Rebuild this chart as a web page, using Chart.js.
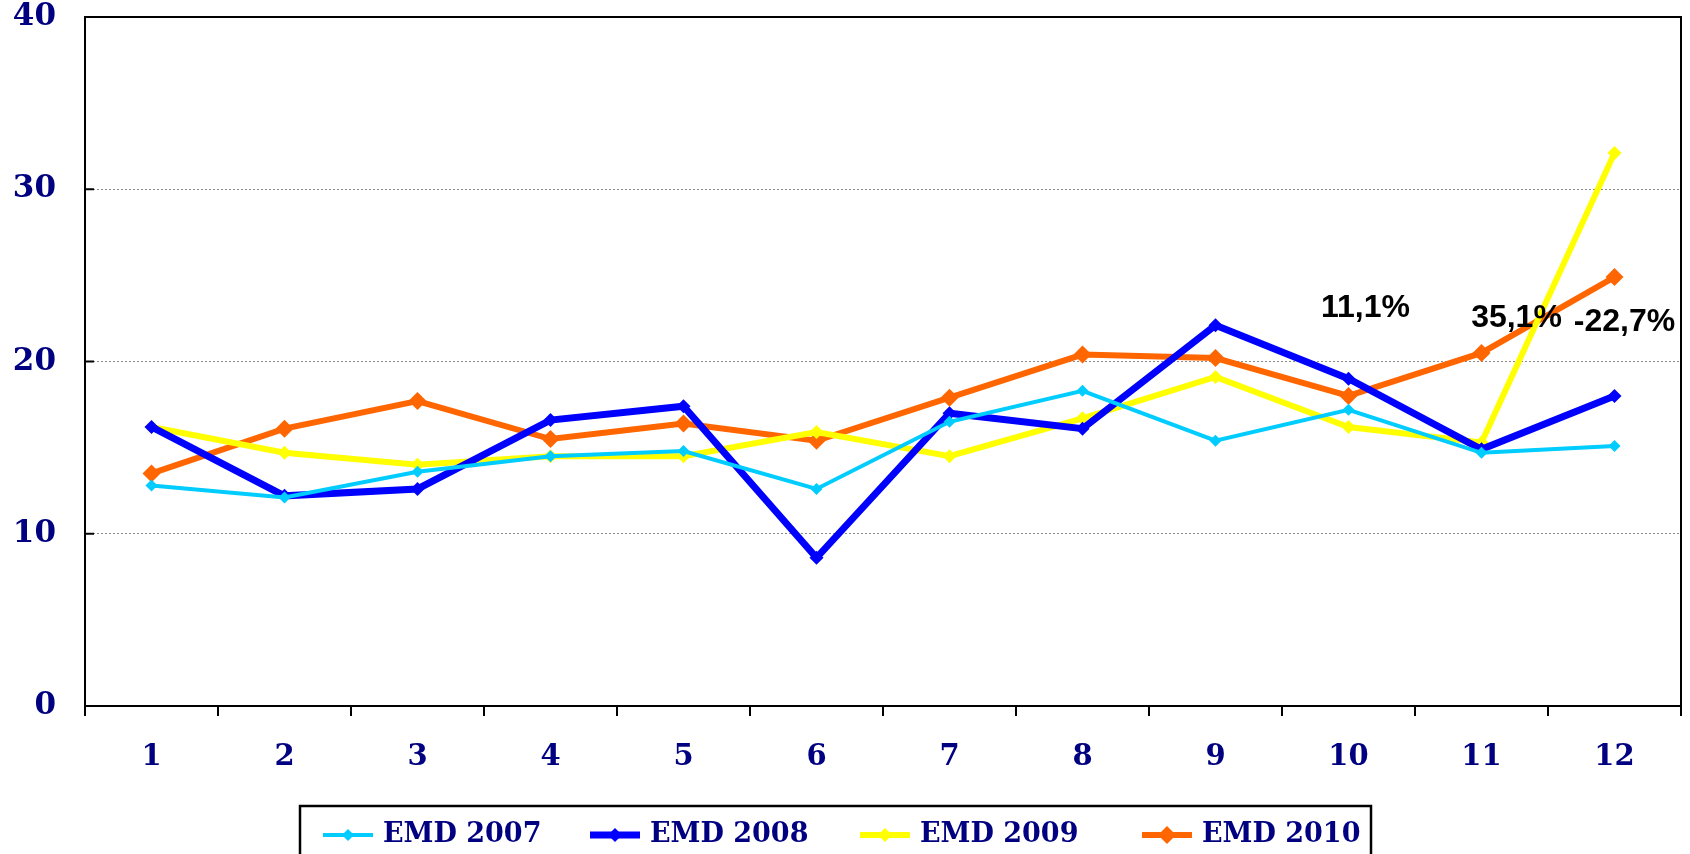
<!DOCTYPE html>
<html>
<head>
<meta charset="utf-8">
<script src="https://cdn.jsdelivr.net/npm/chart.js@4.4.1/dist/chart.umd.min.js"></script>
<style>
    html, body { margin: 0; padding: 0; background: #ffffff; }
    #wrap { width: 1690px; height: 854px; }
</style>
</head>
<body>
<div id="wrap"><canvas id="grafico"></canvas></div>
<script>
var meses = ['1', '2', '3', '4', '5', '6', '7', '8', '9', '10', '11', '12'];

var emd2007 = [12.8, 12.1, 13.6, 14.5, 14.8, 12.6, 16.5, 18.3, 15.4, 17.2, 14.7, 15.1];
var emd2008 = [16.2, 12.2, 12.6, 16.6, 17.4, 8.6, 17.0, 16.1, 22.1, 19.0, 14.9, 18.0];
var emd2009 = [16.2, 14.7, 14.0, 14.5, 14.5, 15.9, 14.5, 16.7, 19.1, 16.2, 15.3, 32.1];
var emd2010 = [13.5, 16.1, 17.7, 15.5, 16.4, 15.4, 17.9, 20.4, 20.2, 18.0, 20.5, 24.9];

var yTicks = [0, 10, 20, 30, 40];

// rotulos de variacao
var rotulos = ['11,1%', '35,1%', '-22,7%'];
var rotuloMes = [10, 11, 12];
var rotuloValor = [23.1, 22.5, 22.3];

var serif = "'DejaVu Serif', 'Liberation Serif', serif";
var azulEscuro = '#000080';

function serie(label, cor, dados, largura, raio) {
    return {
        label: label,
        data: dados,
        borderColor: cor,
        backgroundColor: cor,
        borderWidth: largura,
        pointStyle: 'rectRot',
        pointRadius: raio,
        pointHoverRadius: raio,
        pointBorderWidth: 0,
        tension: 0,
        fill: false
    };
}

var moldura = {
    id: 'moldura',
    afterDraw: function (chart) {
        var ctx = chart.ctx;
        var a = chart.chartArea;
        var y = chart.scales.y;

        ctx.save();
        ctx.strokeStyle = '#000000';
        ctx.lineWidth = 2;
        ctx.strokeRect(a.left, a.top, a.right - a.left, a.bottom - a.top);

        // marcas internas do eixo y
        for (var i = 1; i < yTicks.length - 1; i++) {
            var py = y.getPixelForValue(yTicks[i]);
            ctx.beginPath();
            ctx.moveTo(a.left, py);
            ctx.lineTo(a.left + 9, py);
            ctx.stroke();
        }

        // rotulos de percentagem
        ctx.fillStyle = '#000000';
        ctx.font = "bold 32px 'Liberation Sans', Arial, sans-serif";
        ctx.textAlign = 'center';
        ctx.textBaseline = 'middle';
        var desloc = [17, 35, 10];
        for (var j = 0; j < rotulos.length; j++) {
            var px = chart.scales.x.getPixelForValue(rotuloMes[j] - 1) + desloc[j];
            ctx.fillText(rotulos[j], px, y.getPixelForValue(rotuloValor[j]));
        }

        // legenda em caixa
        var lx = 300, ly = 806, lw = 1071, lh = 60;
        ctx.lineWidth = 2.5;
        ctx.strokeStyle = '#000000';
        ctx.strokeRect(lx, ly, lw, lh);

        ctx.font = 'bold 27px ' + serif;
        ctx.textAlign = 'left';
        var inicio = [323, 590, 860, 1142];
        var cy = 835;
        chart.data.datasets.forEach(function (ds, k) {
            var x = inicio[k];
            ctx.strokeStyle = ds.borderColor;
            ctx.lineWidth = ds.borderWidth;
            ctx.beginPath();
            ctx.moveTo(x, cy);
            ctx.lineTo(x + 50, cy);
            ctx.stroke();
            ctx.fillStyle = ds.borderColor;
            var r = ds.pointRadius;
            ctx.beginPath();
            ctx.moveTo(x + 25, cy - r);
            ctx.lineTo(x + 25 + r, cy);
            ctx.lineTo(x + 25, cy + r);
            ctx.lineTo(x + 25 - r, cy);
            ctx.closePath();
            ctx.fill();
            ctx.fillStyle = azulEscuro;
            ctx.fillText(ds.label, x + 60, cy);
        });
        ctx.restore();
    }
};

var graficoTarget = document.getElementById('grafico');

var grafico = new Chart(graficoTarget, {
    type: 'line',
    data: {
        labels: meses,
        datasets: [
            serie('EMD 2007', '#00CCFF', emd2007, 4, 6),
            serie('EMD 2008', '#0000FF', emd2008, 7, 7),
            serie('EMD 2009', '#FFFF00', emd2009, 6, 7),
            serie('EMD 2010', '#FF6600', emd2010, 6, 9)
        ]
    },
    options: {
        responsive: true,
        maintainAspectRatio: false,
        animation: false,
        layout: { padding: { top: 17, right: 5, left: 0, bottom: 0 } },
        plugins: {
            legend: { display: false },
            tooltip: { enabled: false }
        },
        scales: {
            x: {
                offset: true,
                grid: {
                    offset: true,
                    drawOnChartArea: false,
                    drawTicks: true,
                    tickLength: 10,
                    color: '#000000',
                    lineWidth: 2
                },
                border: { display: false },
                ticks: {
                    color: azulEscuro,
                    font: { family: serif, size: 29, weight: 'bold' },
                    padding: 24,
                    maxRotation: 0
                },
                afterFit: function (scale) { scale.height = 148; }
            },
            y: {
                min: 0,
                max: 40,
                ticks: {
                    stepSize: 10,
                    color: azulEscuro,
                    font: { family: serif, size: 31, weight: 'bold' },
                    padding: 29
                },
                grid: {
                    drawTicks: false,
                    color: function (c) {
                        return (c.tick.value === 0 || c.tick.value === 40) ? 'rgba(0,0,0,0)' : '#8a8a8a';
                    },
                    lineWidth: 1
                },
                border: { display: false, dash: [2, 2] },
                afterFit: function (scale) {
                    scale.width = 85;
                    scale.paddingTop = 0;
                    scale.paddingBottom = 0;
                }
            }
        }
    },
    plugins: [moldura]
});
</script>
</body>
</html>
